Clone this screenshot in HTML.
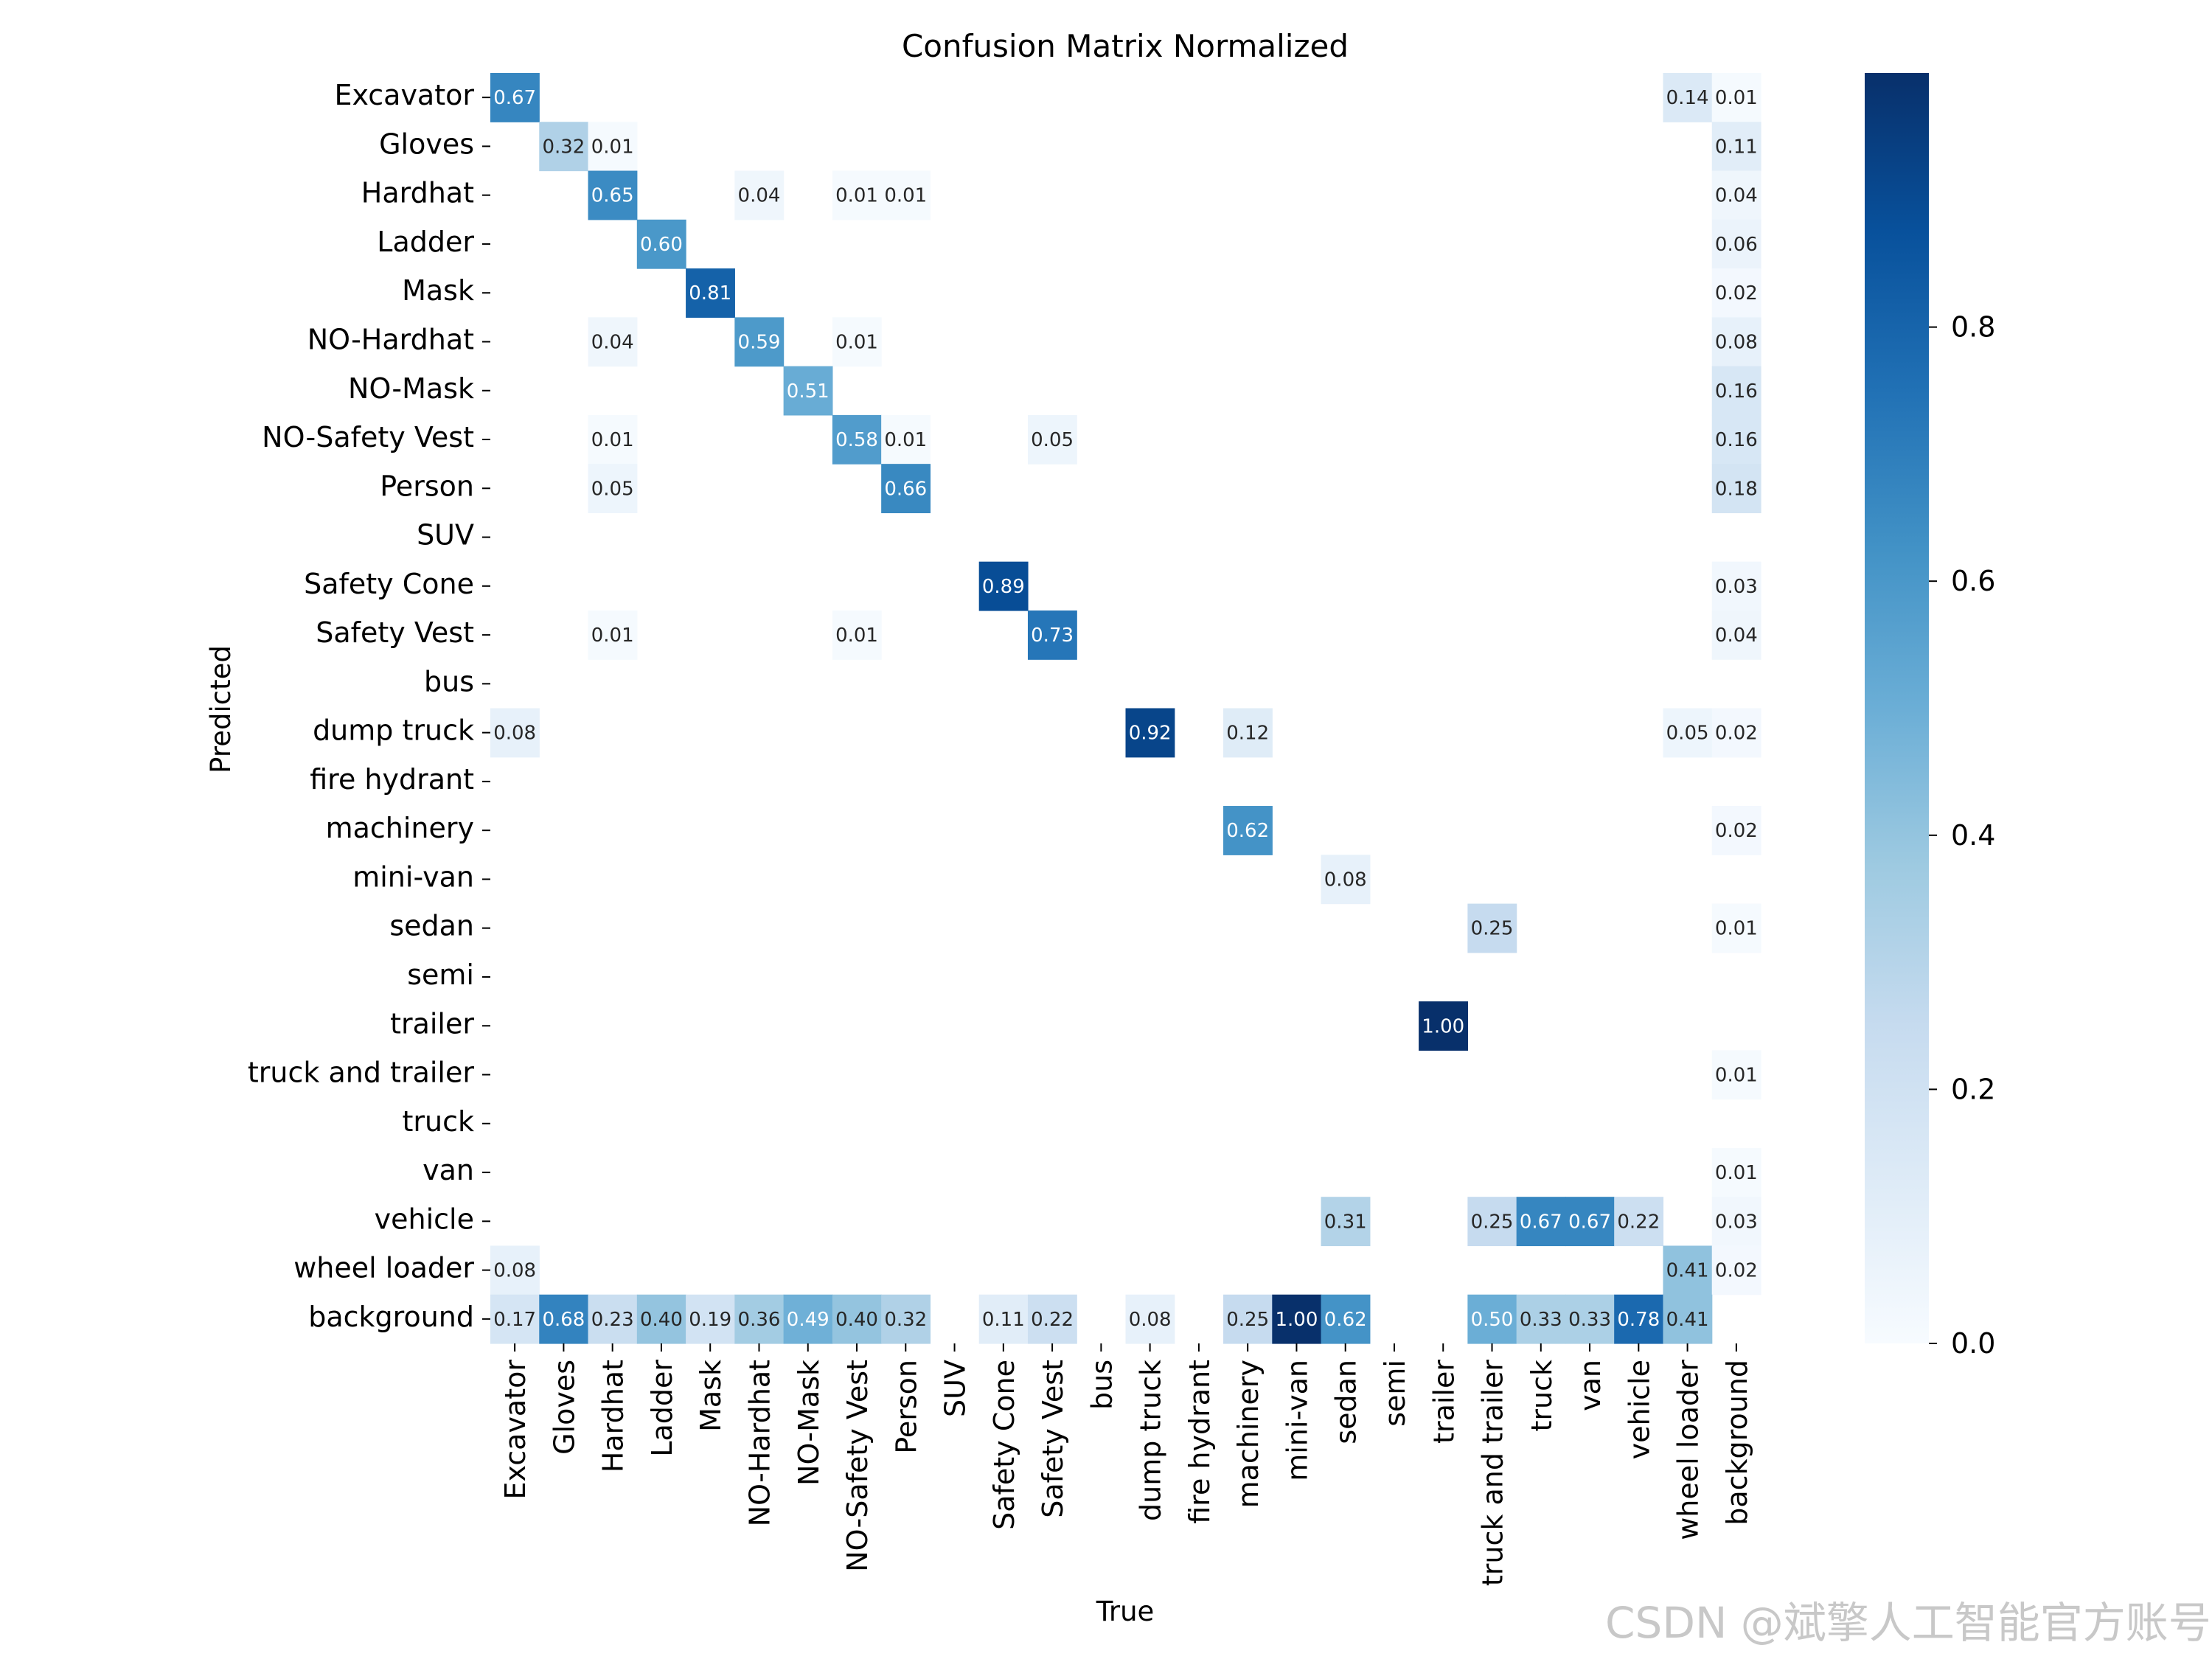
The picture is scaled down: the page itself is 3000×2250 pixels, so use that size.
<!DOCTYPE html>
<html><head><meta charset="utf-8"><style>
html,body{margin:0;padding:0;background:#fff;}
svg{display:block;font-family:"DejaVu Sans","Liberation Sans","Noto Sans CJK SC",sans-serif;}
</style></head><body>
<svg id="chart" width="3000" height="2250" viewBox="0 0 3000 2250" xmlns="http://www.w3.org/2000/svg">
<defs>
<linearGradient id="cbgrad" x1="0" y1="1" x2="0" y2="0">
<stop offset="0" stop-color="#f7fbff"/><stop offset="0.125" stop-color="#deebf7"/><stop offset="0.25" stop-color="#c6dbef"/><stop offset="0.375" stop-color="#9ecae1"/><stop offset="0.5" stop-color="#6baed6"/><stop offset="0.625" stop-color="#4292c6"/><stop offset="0.75" stop-color="#2171b5"/><stop offset="0.875" stop-color="#08519c"/><stop offset="1" stop-color="#08306b"/>
</linearGradient>
</defs>
<text x="1526" y="77" font-size="42" text-anchor="middle" fill="#000">Confusion Matrix Normalized</text>
<text x="1526" y="2198" font-size="37" text-anchor="middle" fill="#000">True</text>
<text transform="translate(312,962) rotate(-90)" font-size="37" text-anchor="middle" fill="#000">Predicted</text>
<g id="cells"></g>
<g id="xt"></g>
<g id="yt"></g>
<rect x="2529" y="99" width="87" height="1723" fill="url(#cbgrad)"/>
<g id="cb"></g>
<text x="2177" y="2221" font-size="58" fill="#c8c8c8">CSDN @斌擎人工智能官方账号</text>
</svg>
<script>
const labels = ["Excavator","Gloves","Hardhat","Ladder","Mask","NO-Hardhat","NO-Mask","NO-Safety Vest","Person","SUV","Safety Cone","Safety Vest","bus","dump truck","fire hydrant","machinery","mini-van","sedan","semi","trailer","truck and trailer","truck","van","vehicle","wheel loader","background"];
const cellRows = [0,0,0, 1,1,1, 2,2,2,2,2, 3,3, 4,4, 5,5,5,5, 6,6, 7,7,7,7,7, 8,8,8, 10,10, 11,11,11,11, 13,13,13,13,13, 15,15, 16, 17,17, 19, 20, 22, 23,23,23,23,23,23, 24,24,24, 25,25,25,25,25,25,25,25,25,25,25,25,25,25,25,25,25,25,25,25];
const cellCols = [0,24,25, 1,2,25, 2,5,7,8,25, 3,25, 4,25, 2,5,7,25, 6,25, 2,7,8,11,25, 2,8,25, 10,25, 2,7,11,25, 0,13,15,24,25, 15,25, 17, 20,25, 19, 25, 25, 17,20,21,22,23,25, 0,24,25, 0,1,2,3,4,5,6,7,8,10,11,13,15,16,17,20,21,22,23,24];
const cellValues = [0.67,0.14,0.01, 0.32,0.01,0.11, 0.65,0.04,0.01,0.01,0.04, 0.60,0.06, 0.81,0.02, 0.04,0.59,0.01,0.08, 0.51,0.16, 0.01,0.58,0.01,0.05,0.16, 0.05,0.66,0.18, 0.89,0.03, 0.01,0.01,0.73,0.04, 0.08,0.92,0.12,0.05,0.02, 0.62,0.02, 0.08, 0.25,0.01, 1.00, 0.01, 0.01, 0.31,0.25,0.67,0.67,0.22,0.03, 0.08,0.41,0.02, 0.17,0.68,0.23,0.40,0.19,0.36,0.49,0.40,0.32,0.11,0.22,0.08,0.25,1.00,0.62,0.50,0.33,0.33,0.78,0.41];
const cbTicks = [0.0,0.2,0.4,0.6,0.8];

const L=665, T=99, W=1723, H=1723, N=labels.length, cw=W/N, ch=H/N;
const xPos = c => L + c*cw;
const yPos = r => T + r*ch;
const cbY = v => T + H - v*H;
const NS="http://www.w3.org/2000/svg";
const blues=["#f7fbff","#deebf7","#c6dbef","#9ecae1","#6baed6","#4292c6","#2171b5","#08519c","#08306b"].map(h=>[1,3,5].map(i=>parseInt(h.substr(i,2),16)));
function cmap(v){v=Math.max(0,Math.min(1,v));const p=v*8,i=Math.min(7,Math.floor(p)),f=p-i;return blues[i].map((a,k)=>a+(blues[i+1][k]-a)*f);}
function lum(c){const l=c.map(x=>{x/=255;return x<=0.03928?x/12.92:Math.pow((x+0.055)/1.055,2.4);});return 0.2126*l[0]+0.7152*l[1]+0.0722*l[2];}
function mk(tag,attrs,parent){const e=document.createElementNS(NS,tag);for(const k in attrs)e.setAttribute(k,attrs[k]);parent.appendChild(e);return e;}

const cells=document.getElementById('cells');
for(let i=0;i<cellValues.length;i++){
  const v=cellValues[i], r=cellRows[i], c=cellCols[i];
  const col=cmap(v);
  const rect=mk('rect',{x:xPos(c),y:yPos(r),width:cw+0.6,height:ch+0.6,fill:'rgb('+col.map(Math.round).join(',')+')'},cells);
  
  
  const t=mk('text',{x:xPos(c)+cw/2,y:yPos(r)+ch/2+9,'font-size':26,'text-anchor':'middle',fill:lum(col)>0.408?'#262626':'#ffffff'},cells);
  t.textContent=v.toFixed(2);
  
  
}
const xt=document.getElementById('xt'), yt=document.getElementById('yt');
labels.forEach((lab,i)=>{
  const cx=xPos(i)+cw/2, cy=yPos(i)+ch/2;
  const tl=mk('line',{x1:cx,y1:T+H,x2:cx,y2:T+H+11,stroke:'#000','stroke-width':2},xt);
  
  
  const tx=mk('text',{transform:'translate('+(cx+14)+','+(T+H+22)+') rotate(-90)','font-size':38,'text-anchor':'end',fill:'#000'},xt);
  tx.textContent=lab;
  
  
  const yl=mk('line',{x1:L-11,y1:cy,x2:L,y2:cy,stroke:'#000','stroke-width':2},yt);
  
  
  const ty=mk('text',{x:L-22,y:cy+10,'font-size':38,'text-anchor':'end',fill:'#000'},yt);
  ty.textContent=lab;
  
  
});
const cb=document.getElementById('cb');
cbTicks.forEach(v=>{
  const y=cbY(v);
  const l=mk('line',{x1:2616,y1:y,x2:2627,y2:y,stroke:'#000','stroke-width':2},cb);
  
  
  const t=mk('text',{x:2646,y:y+13,'font-size':38,fill:'#000'},cb);
  t.textContent=v.toFixed(1);
  
  
});
</script>
</body></html>
